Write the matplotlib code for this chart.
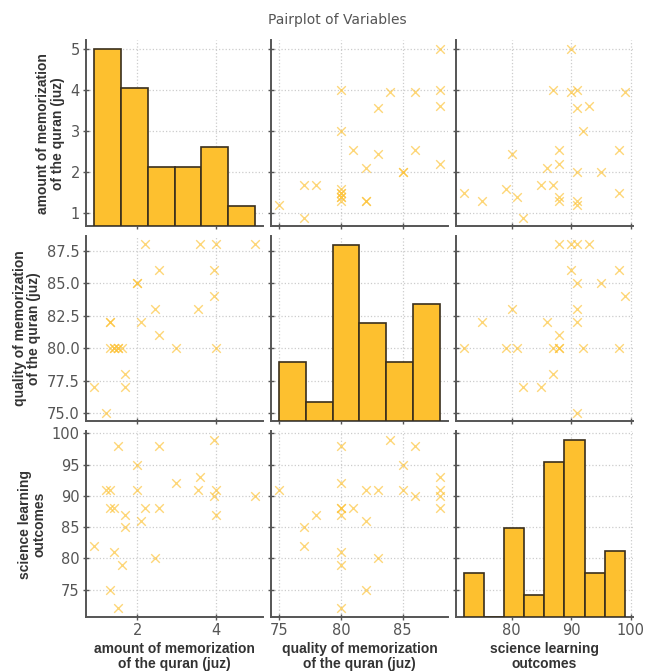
import matplotlib.pyplot as plt
from matplotlib.ticker import MultipleLocator


# values (one entry per student)
amount = [0.9, 1.2, 1.3, 1.3, 1.3, 1.4, 1.4, 1.5, 1.5, 1.6, 1.7, 1.7, 2.0, 2.0,
          2.1, 2.2, 2.45, 2.55, 2.55, 3.0, 3.55, 3.6, 4.0, 3.95, 3.95, 4.0, 5.0]
quality = [77, 75, 82, 82, 80, 80, 80, 80, 80, 80, 78, 77, 85, 85,
           82, 88, 83, 86, 81, 80, 83, 88, 88, 86, 84, 80, 88]
science = [82, 91, 91, 75, 88, 88, 81, 98, 72, 79, 87, 85, 95, 91,
           86, 88, 80, 98, 88, 92, 91, 93, 91, 90, 99, 87, 90]

labels = ["amount of memorization\nof the quran (juz)",
          "quality of memorization\nof the quran (juz)",
          "science learning\noutcomes"]
bins = [6, 6, 8]
steps = [2, 5, 10]      # x tick spacing per column
ysteps = [1, 2.5, 5]    # y tick spacing per row

bar_color = "#FDC02F"
edge_color = "#3a2f1c"
spine_color = "#555555"

data = [amount, quality, science]

fig, axes = plt.subplots(3, 3, figsize=(6.47, 6.72), dpi=100, sharex="col", sharey="row")
fig.subplots_adjust(left=0.133, right=0.978, top=0.94, bottom=0.082, wspace=0.045, hspace=0.053)

for i in range(3):
    for j in range(3):
        ax = axes[i, j]
        ax.grid(True, linestyle=":", color="#cccccc", linewidth=0.9)
        ax.set_axisbelow(True)
        for s in ["top", "right"]:
            ax.spines[s].set_visible(False)
        for s in ["left", "bottom"]:
            ax.spines[s].set_color(spine_color)
            ax.spines[s].set_linewidth(1.4)
        ax.tick_params(direction="inout", length=5, width=1, color=spine_color, pad=2,
                       labelcolor="#555555", labelsize=10.5)
        ax.xaxis.set_major_locator(MultipleLocator(steps[j]))
        ax.yaxis.set_major_locator(MultipleLocator(ysteps[i]))

        if i == j:
            tw = ax.twinx()
            tw.hist(data[i], bins=bins[i], color=bar_color, edgecolor=edge_color, linewidth=1.2)
            tw.set_yticks([])
            for s in tw.spines.values():
                s.set_visible(False)
        else:
            ax.scatter(data[j], data[i], marker="x", s=38, color=bar_color, alpha=0.65, linewidths=1)

        if j == 0:
            ax.set_ylabel(labels[i], fontsize=10, fontweight="bold", family="Liberation Sans",
                          color="#333333", linespacing=1.05)
        if i == 2:
            ax.set_xlabel(labels[j], fontsize=10, fontweight="bold", family="Liberation Sans",
                          color="#333333", linespacing=1.05, labelpad=3)

fig.suptitle("Pairplot of Variables", fontsize=10, color="#555555", x=0.522, y=0.970, va="center")

plt.savefig("out.png")
